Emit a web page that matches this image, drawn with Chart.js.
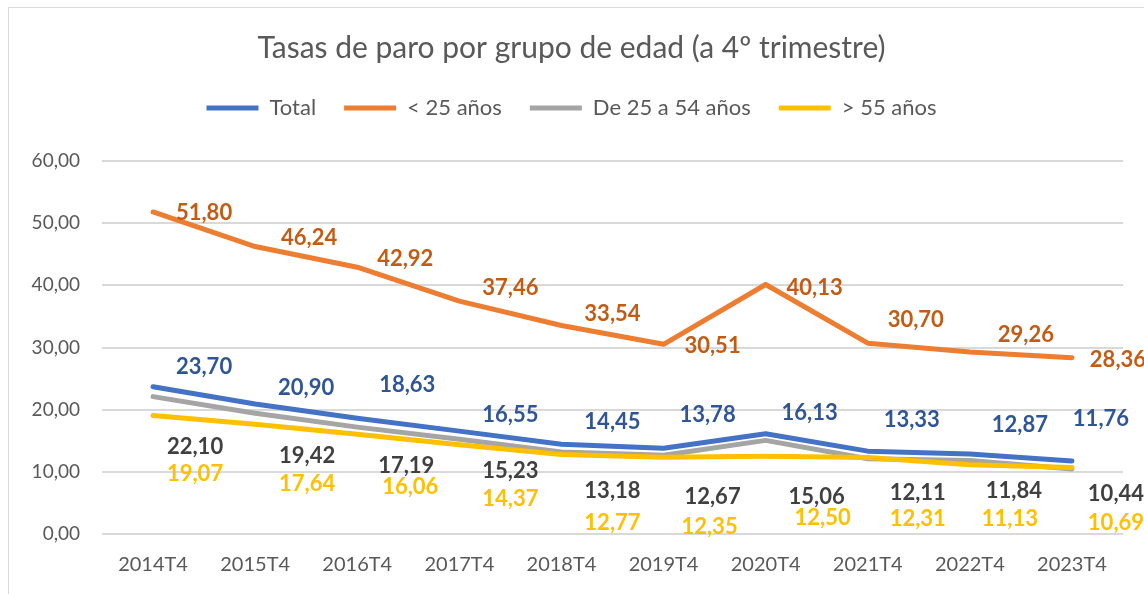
<!DOCTYPE html>
<html lang="es">
<head>
<meta charset="utf-8">
<title>Tasas de paro por grupo de edad</title>
<script src="https://cdn.jsdelivr.net/npm/chart.js@4/dist/chart.umd.min.js"></script>
<style>
  html, body { margin: 0; padding: 0; background: #fff; }
  body { width: 1144px; height: 594px; position: relative; overflow: hidden; }
  .frame { position: absolute; left: 8px; top: 7px; width: 1160px; height: 600px; border: 1px solid #d9d9d9; box-sizing: border-box; }
  #wrap { position: absolute; left: 0; top: 0; width: 1144px; height: 594px; }
</style>
</head>
<body>
<div class="frame"></div>
<div id="wrap"><canvas id="chart" width="1144" height="594"></canvas></div>
<script>
  /* ===== Data ===== */
  const categories = ['2014T4', '2015T4', '2016T4', '2017T4', '2018T4', '2019T4', '2020T4', '2021T4', '2022T4', '2023T4'];
  const seriesNames = ['Total', '< 25 años', 'De 25 a 54 años', '> 55 años'];
  const total = [23.70, 20.90, 18.63, 16.55, 14.45, 13.78, 16.13, 13.33, 12.87, 11.76];
  const under25 = [51.80, 46.24, 42.92, 37.46, 33.54, 30.51, 40.13, 30.70, 29.26, 28.36];
  const from25to54 = [22.10, 19.42, 17.19, 15.23, 13.18, 12.67, 15.06, 12.11, 11.84, 10.44];
  const over55 = [19.07, 17.64, 16.06, 14.37, 12.77, 12.35, 12.50, 12.31, 11.13, 10.69];
  const yTicks = [0, 10, 20, 30, 40, 50, 60];

  /* ===== Styles ===== */
  const lineColors = ['#4472C4', '#ED7D31', '#A5A5A5', '#FFC000'];
  const labelColors = ['#2F5597', '#C55A11', '#404040', '#FFC000'];
  const FONT = 'Lato, sans-serif';

  // data label offsets (px from the point), one row per series
  const labelDx = [
    [51, 51, 50, 51, 51, 44, 44, 44, 50, 29],
    [51, 54, 48, 51, 51, 49, 49, 48, 56, 46],
    [42, 52, 49, 51, 51, 49, 51, 50, 44, 44],
    [42, 52, 53, 51, 51, 46, 57, 50, 40, 44]
  ];
  const labelDy = [
    [-20, -16, -33, -16, -22, -33, -21, -31, -29, -42],
    [1, -9, -8, -13, -12, 2, 3, -23, -17, 2],
    [50, 43, 39, 32, 39, 42, 57, 34, 31, 25],
    [58, 60, 53, 54, 68, 70, 62, 61, 54, 55]
  ];

  const fmt = v => v.toFixed(2).replace('.', ',');

  const valueLabels = {
    id: 'valueLabels',
    afterDatasetsDraw(chart) {
      const ctx = chart.ctx;
      ctx.save();
      ctx.font = 'bold 22px ' + FONT;
      ctx.textAlign = 'center';
      ctx.textBaseline = 'middle';
      chart.data.datasets.forEach((ds, d) => {
        const meta = chart.getDatasetMeta(d);
        ctx.fillStyle = labelColors[d];
        meta.data.forEach((pt, i) => {
          ctx.fillText(fmt(ds.data[i]), pt.x + labelDx[d][i], pt.y + labelDy[d][i]);
        });
      });
      ctx.restore();
    }
  };

  const seriesData = [total, under25, from25to54, over55];

  new Chart(document.getElementById('chart'), {
    type: 'line',
    data: {
      labels: categories,
      datasets: seriesData.map((vals, d) => ({
        label: seriesNames[d],
        data: vals,
        borderColor: lineColors[d],
        backgroundColor: lineColors[d],
        borderWidth: 5,
        borderCapStyle: 'round',
        borderJoinStyle: 'round',
        pointRadius: 0,
        tension: 0,
        order: 4 - d
      }))
    },
    options: {
      responsive: false,
      animation: false,
      devicePixelRatio: 1,
      layout: { padding: { left: 20, right: 21, top: 0, bottom: 0 } },
      plugins: {
        tooltip: { enabled: false },
        title: {
          display: true,
          text: 'Tasas de paro por grupo de edad (a 4º trimestre)',
          color: '#595959',
          font: { family: FONT, size: 30, weight: 'normal', lineHeight: 1.2 },
          padding: { top: 30, bottom: 3 }
        },
        // empty spacer between legend and plot area
        subtitle: {
          display: true,
          text: '',
          weight: 500,
          font: { size: 10, lineHeight: 1 },
          padding: { top: 0, bottom: 22 }
        },
        legend: {
          position: 'top',
          labels: {
            color: '#595959',
            font: { family: FONT, size: 22 },
            usePointStyle: true,
            pointStyle: 'line',
            pointStyleWidth: 52,
            padding: 28,
            sort: (a, b) => a.datasetIndex - b.datasetIndex
          }
        }
      },
      scales: {
        x: {
          offset: true,
          grid: { display: false, drawTicks: false },
          border: { display: false },
          ticks: { color: '#595959', font: { family: FONT, size: 20 }, padding: 19, maxRotation: 0 },
          afterFit: s => { s.height = 60; }
        },
        y: {
          min: 0,
          max: 60,
          afterBuildTicks: s => { s.ticks = yTicks.map(v => ({ value: v })); },
          grid: { color: '#d9d9d9', lineWidth: 2, drawTicks: false },
          border: { display: false },
          ticks: { color: '#595959', font: { family: FONT, size: 19 }, padding: 22, callback: v => fmt(v) },
          afterFit: s => { s.width = 82; }
        }
      }
    },
    plugins: [valueLabels]
  });
</script>
</body>
</html>
